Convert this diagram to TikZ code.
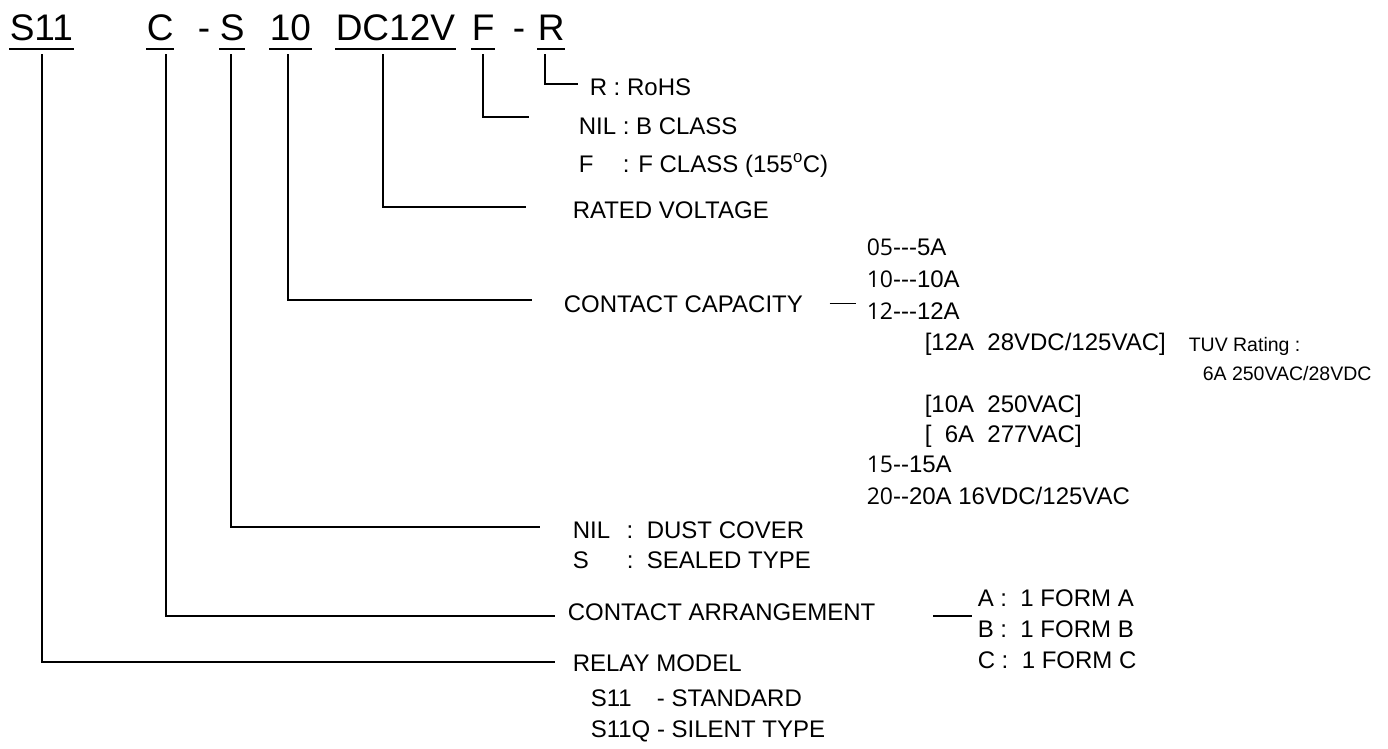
\documentclass[tikz,border=0pt]{standalone}
\usepackage{fontspec}
\setmainfont{Liberation Sans}
\newfontfamily\numfont{Open Sans}
\usepackage{tikz}

\newcommand{\hy}{\mbox{-}}
\newcommand{\nbr}[1]{{\numfont\fontsize{23}{26}\selectfont #1}}

\begin{document}
\begin{tikzpicture}[x=1pt, y=-1pt, line width=1.5pt,
    every node/.append style={inner sep=0pt, anchor=base west},
    code/.style={font=\fontsize{37}{44}\selectfont},
    txt/.style={font=\fontsize{24}{28}\selectfont},
    small/.style={font=\fontsize{19.5}{23}\selectfont}]
    \useasboundingbox (0,0) rectangle (1388,748);
    % part number, underlined
    \foreach \x/\y/\z in {9/S11/hS11, 146/C/hC, 219/S/hS, 269/10/h10, 335/DC12V/hDC, 471/F/hF, 537/R/hR}
    {
    \node[code] (\z) at (\x,40) {\y};
    \draw[line width=2.4pt] ([yshift=-9pt]\z.base west) -- ([yshift=-9pt]\z.base east);
    }
    \node[code] (dash1) at (197,40) {-};
    \node[code] (dash2) at (512,40) {-};
    % edit here for the branch lines
    \foreach \z/\dx/\y/\e in {hS11/33/662/555, hC/20/616/555, hS/12/527/540, h10/19/300/532, hDC/48/207/526, hF/12/117/529, hR/8/84/578}
    \draw ([xshift=\dx pt, yshift=-14pt]\z.base west) |- (\e,\y) coordinate (\z end);

    \node[txt] (rohs) at (589,95) {R : RoHS};
    \node[txt] (bcls) at (578,134) {NIL : B CLASS};
    \node[txt] (fcls) at (578,172) {\makebox[1.834em][l]{F}: F CLASS (155\textsuperscript{o}C)};
    \node[txt] (rated) at (572,218) {RATED VOLTAGE};
    \node[txt] (capa) at (563,312) {CONTACT CAPACITY};
    \node[txt] (dust) at (572,538) {\makebox[2.25em][l]{NIL}:\ \ DUST COVER};
    \node[txt] (seal) at (572,568) {\makebox[2.25em][l]{S}:\ \ SEALED TYPE};
    \node[txt] (carr) at (567,620) {CONTACT ARRANGEMENT};
    \node[txt] (relay) at (572,671) {RELAY MODEL};
    \node[txt] (std) at (590,706) {\makebox[2.76em][l]{S11}- STANDARD};
    \node[txt] (silent) at (590,737) {S11Q - SILENT TYPE};

    % contact capacity list
    \foreach \x/\y/\t/\z in {
        866/255/{\nbr{05}\hy\hy\hy 5A}/c05,
        866/287/{\nbr{10}\hy\hy\hy 10A}/c10,
        866/319/{\nbr{12}\hy\hy\hy 12A}/c12,
        924/350/{[12A\ \ 28VDC/125VAC]}/r12,
        924/412/{[10A\ \ 250VAC]}/r10,
        924/442/{[\ \ 6A\ \ 277VAC]}/r6,
        866/472/{\nbr{15}\hy\hy 15A}/c15,
        866/504/{\nbr{20}\hy\hy 20A 16VDC/125VAC}/c20}
    \node[txt] (\z) at (\x,\y) {\t};
    \node[small] (tuv) at (1188,351) {TUV Rating :};
    \node[small] (tuvval) at (1202,380) {6A 250VAC/28VDC};
    \draw ([xshift=26pt]capa.east) -- ++(26,0);

    % contact arrangement list
    \foreach \y/\t/\z in {606/A/fa, 637/B/fb, 668/C/fc}
    \node[txt] (\z) at (977,\y) {\t{} :\ \ 1 FORM \t};
    \draw ([xshift=57pt, yshift=-4pt]carr.east) -- ++(39,0);
\end{tikzpicture}
\end{document}
